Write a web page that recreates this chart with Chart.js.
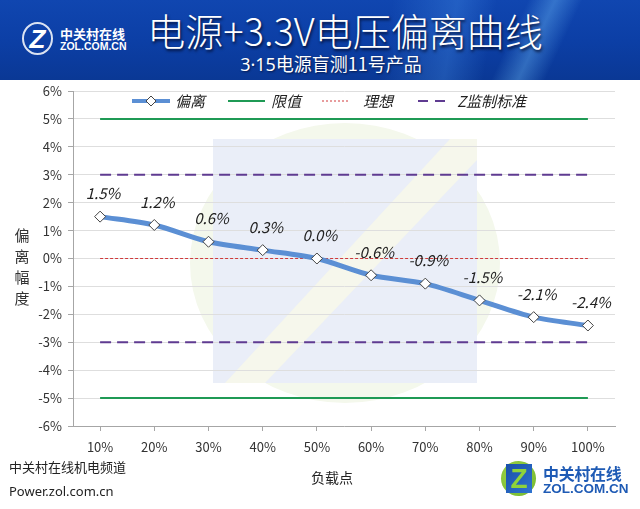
<!DOCTYPE html>
<html>
<head>
<meta charset="utf-8">
<script src="https://cdn.jsdelivr.net/npm/chart.js@4.4.1/dist/chart.umd.min.js"></script>
<style>
  html, body { margin:0; padding:0; width:640px; height:509px; overflow:hidden; background:#fff; font-family:"Noto Sans CJK SC","Noto Sans",sans-serif; }
  #wrap { position:absolute; left:0; top:0; width:640px; height:509px; }
  #banner { position:absolute; left:0; top:0; width:640px; height:80px; z-index:2;
    background:
      linear-gradient(115deg, rgba(255,255,255,0) 78%, rgba(120,200,255,0.35) 82%, rgba(255,255,255,0) 86%),
      linear-gradient(100deg, rgba(255,255,255,0) 60%, rgba(90,170,255,0.25) 70%, rgba(255,255,255,0) 76%),
      linear-gradient(180deg, #1046b0 0%, #0c3fa6 50%, #0a3895 100%);
    overflow:hidden; }
  .t { position:absolute; white-space:nowrap; }
  #title { left:0; width:690px; text-align:center; top:2px; font-size:38px; font-weight:300; color:#fff; text-shadow:1px 2px 3px rgba(0,0,20,0.8); }
  #sub { left:0; width:662px; text-align:center; top:50px; font-size:18px; color:#fff; text-shadow:1px 1px 2px rgba(0,0,20,0.6); }
  #sub span { font-family:"Noto Sans","DejaVu Sans",sans-serif; }
  #zc { left:22px; top:22px; width:31px; height:33px; border-radius:50%; border:2px solid rgba(255,255,255,0.85); box-sizing:border-box; color:#fff; font:bold italic 26px "Liberation Sans",sans-serif; text-align:center; line-height:30px; }
  #z1 { left:60px; top:24px; font-size:13px; font-weight:bold; color:#fff; }
  #z2 { left:60px; top:40px; font:bold 10.5px "Liberation Sans",sans-serif; color:#fff; }
  #ytitle { left:14px; top:224px; width:16px; font-size:15px; line-height:21px; color:#333; text-align:center; white-space:normal; }
  #xtitle { left:292px; width:80px; text-align:center; top:467px; font-size:14px; color:#222; }
  #bl1 { left:9px; top:457px; font-size:13px; color:#222; }
  #bl2 { left:9px; top:482px; font-size:13px; color:#222; font-family:"Noto Sans","DejaVu Sans",sans-serif; }
  #bricon { left:501px; top:461px; width:35px; height:35px; border-radius:50%; background:radial-gradient(circle at 40% 40%, #a6d64a, #6cb52b); }
  #bricon div { position:absolute; left:5px; top:3px; width:26px; height:29px; background:linear-gradient(135deg,#1a4fa8,#2f74d0); color:#8fd33a; font:bold 28px "Liberation Sans",sans-serif; line-height:29px; text-align:center; }
  #br1 { left:543px; top:461px; font-size:16px; font-weight:bold; color:#1f5bb5; letter-spacing:-0.3px; }
  #br2 { left:543px; top:481px; font:bold 13.5px "Liberation Sans",sans-serif; color:#1f5bb5; }
</style>
</head>
<body>
<div id="wrap"><canvas id="c" width="640" height="509"></canvas></div>
<div id="banner">
  <div class="t" id="title">电源+3.3V电压偏离曲线</div>
  <div class="t" id="sub"><span>3·15</span>电源盲测11号产品</div>
  <div class="t" id="zc">Z</div>
  <div class="t" id="z1">中关村在线</div>
  <div class="t" id="z2">ZOL.COM.CN</div>
</div>
<div class="t" id="ytitle">偏<br>离<br>幅<br>度</div>
<div class="t" id="xtitle">负载点</div>
<div class="t" id="bl1">中关村在线机电频道</div>
<div class="t" id="bl2">Power.zol.com.cn</div>
<div class="t" id="bricon"><div>Z</div></div>
<div class="t" id="br1">中关村在线</div>
<div class="t" id="br2">ZOL.COM.CN</div>
<script>
const categories = ['10%','20%','30%','40%','50%','60%','70%','80%','90%','100%'];
const deviation = [1.5, 1.2, 0.6, 0.3, 0.0, -0.6, -0.9, -1.5, -2.1, -2.4];
const limitUpper = [5, 5, 5, 5, 5, 5, 5, 5, 5, 5];
const limitLower = [-5, -5, -5, -5, -5, -5, -5, -5, -5, -5];
const ideal = [0, 0, 0, 0, 0, 0, 0, 0, 0, 0];
const zUpper = [3, 3, 3, 3, 3, 3, 3, 3, 3, 3];
const zLower = [-3, -3, -3, -3, -3, -3, -3, -3, -3, -3];
const yTicks = [-6, -5, -4, -3, -2, -1, 0, 1, 2, 3, 4, 5, 6];
const seriesNames = ['偏离', '限值', '理想', 'Z监制标准'];

const BLUE = '#5b8fd4', GREEN = '#1f9a55', RED = '#d0393b', PURPLE = '#5f3b91';
const CJK = '"Noto Sans CJK SC", "Noto Sans", sans-serif';

const watermark = {
  id: 'watermark',
  beforeDraw(chart) {
    const ctx = chart.ctx;
    ctx.save();
    ctx.fillStyle = 'rgba(244,248,236,1)';
    ctx.beginPath();
    ctx.ellipse(345, 263, 155, 140, 0, 0, Math.PI * 2);
    ctx.fill();
    ctx.fillStyle = 'rgba(234,238,248,1)';
    ctx.fillRect(213, 139, 264, 244);
    ctx.fillStyle = 'rgba(246,247,236,1)';
    ctx.beginPath();
    ctx.moveTo(450, 139); ctx.lineTo(477, 139); ctx.lineTo(477, 160);
    ctx.lineTo(265, 383); ctx.lineTo(225, 383);
    ctx.closePath(); ctx.fill();
    ctx.restore();
  }
};

const legendPlugin = {
  id: 'customLegend',
  afterDraw(chart) {
    const ctx = chart.ctx;
    const y = 101;
    ctx.save();
    ctx.font = 'italic 15px ' + CJK;
    ctx.fillStyle = '#222';
    ctx.textBaseline = 'middle';
    ctx.strokeStyle = BLUE; ctx.lineWidth = 4; ctx.setLineDash([]);
    ctx.beginPath(); ctx.moveTo(132, y); ctx.lineTo(170, y); ctx.stroke();
    ctx.fillStyle = '#fff'; ctx.strokeStyle = '#444'; ctx.lineWidth = 1;
    ctx.beginPath(); ctx.moveTo(151, y - 5); ctx.lineTo(156, y); ctx.lineTo(151, y + 5); ctx.lineTo(146, y); ctx.closePath();
    ctx.fill(); ctx.stroke();
    ctx.fillStyle = '#222';
    ctx.fillText(seriesNames[0], 175, y);
    ctx.strokeStyle = GREEN; ctx.lineWidth = 2;
    ctx.beginPath(); ctx.moveTo(228, y); ctx.lineTo(265, y); ctx.stroke();
    ctx.fillText(seriesNames[1], 271, y);
    ctx.strokeStyle = RED; ctx.lineWidth = 1; ctx.setLineDash([2, 2]);
    ctx.beginPath(); ctx.moveTo(322, y); ctx.lineTo(350, y); ctx.stroke();
    ctx.fillText(seriesNames[2], 363, y);
    ctx.strokeStyle = PURPLE; ctx.lineWidth = 2; ctx.setLineDash([10, 7]);
    ctx.beginPath(); ctx.moveTo(418, y); ctx.lineTo(450, y); ctx.stroke();
    ctx.setLineDash([]);
    ctx.fillText(seriesNames[3], 457, y);
    ctx.restore();
  }
};

const labelPlugin = {
  id: 'valueLabels',
  afterDatasetsDraw(chart) {
    const ctx = chart.ctx;
    const meta = chart.getDatasetMeta(0);
    ctx.save();
    ctx.font = 'italic 15px ' + CJK;
    ctx.fillStyle = '#222';
    ctx.textAlign = 'center';
    ctx.textBaseline = 'middle';
    meta.data.forEach((pt, i) => {
      ctx.fillText(deviation[i].toFixed(1) + '%', pt.x + 3, pt.y - 23);
    });
    ctx.restore();
  }
};

const flat = (label, data, color, width, dash) => ({
  label, data, borderColor: color, backgroundColor: color, borderWidth: width,
  borderDash: dash, pointRadius: 0, pointHoverRadius: 0, fill: false, tension: 0, order: 2
});

new Chart(document.getElementById('c'), {
  type: 'line',
  data: {
    labels: categories,
    datasets: [
      { label: seriesNames[0], data: deviation, borderColor: BLUE, borderWidth: 5,
        tension: 0.3, pointStyle: 'rectRot', pointRadius: 5.5, pointBackgroundColor: '#fff',
        pointBorderColor: '#444', pointBorderWidth: 1, fill: false, order: 0 },
      flat(seriesNames[1], limitUpper, GREEN, 2, []),
      flat(seriesNames[1], limitLower, GREEN, 2, []),
      flat(seriesNames[2], ideal, RED, 1, [3, 2]),
      flat(seriesNames[3], zUpper, PURPLE, 2, [11, 6]),
      flat(seriesNames[3], zLower, PURPLE, 2, [11, 6])
    ]
  },
  options: {
    responsive: false,
    animation: false,
    events: [],
    layout: { padding: { top: 91, right: 25, bottom: 43, left: 0 } },
    plugins: { legend: { display: false }, tooltip: { enabled: false } },
    scales: {
      x: {
        offset: true,
        grid: { drawOnChartArea: false, drawTicks: true, tickLength: 5, color: '#a6a6a6' },
        border: { color: '#a6a6a6' },
        ticks: { color: '#333', font: { family: CJK, size: 13 }, padding: 8, maxRotation: 0 },
        afterFit(s) { s.height = 40; }
      },
      y: {
        min: -6, max: 6,
        afterBuildTicks(s) { s.ticks = yTicks.map(v => ({ value: v })); },
        grid: { color: '#dedede', tickLength: 5, tickColor: '#a6a6a6', lineWidth: 1 },
        border: { color: '#a6a6a6' },
        ticks: { color: '#333', font: { family: CJK, size: 13 }, padding: 6,
          callback: v => v + '%' },
        afterFit(s) { s.width = 73; }
      }
    }
  },
  plugins: [watermark, legendPlugin, labelPlugin]
});
</script>
</body>
</html>
